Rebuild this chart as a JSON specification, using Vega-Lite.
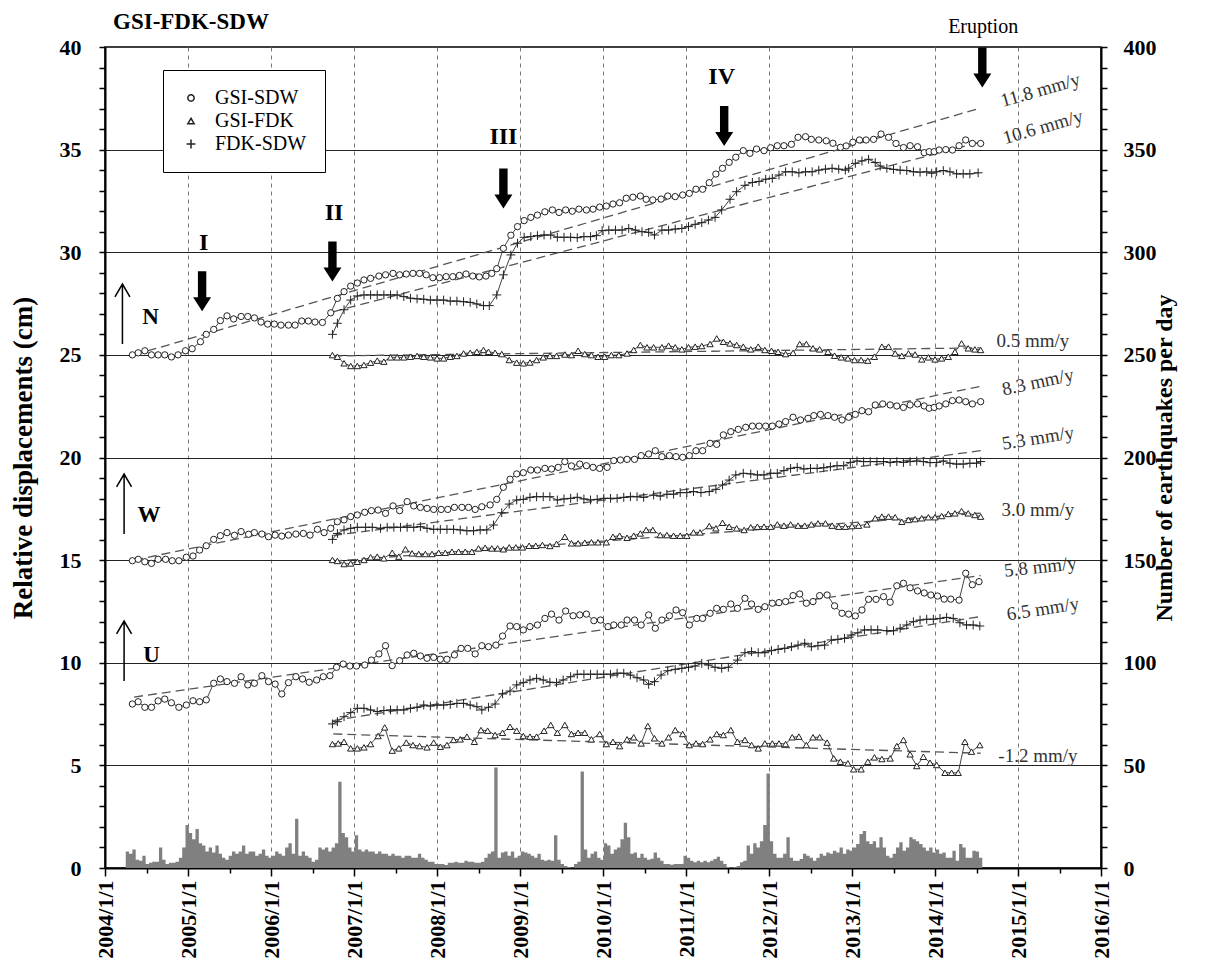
{
"$schema":"https://vega.github.io/schema/vega-lite/v6.json",
"width":996,"height":821,
"autosize":{"type":"none"},
"padding":{"left":105,"top":47,"right":113,"bottom":106},
"background":"white",
"title":{"text":"GSI-FDK-SDW","anchor":"start","frame":"group","font":"Liberation Serif","fontSize":23,"fontWeight":"bold","color":"black","dx":8,"dy":33,"offset":16},
"config":{
 "view":{"stroke":"black","strokeWidth":1.5},
 "axis":{"labelFont":"Liberation Serif","titleFont":"Liberation Serif","labelFontWeight":"bold","titleFontWeight":"bold","labelColor":"black","titleColor":"black","tickColor":"black","domainColor":"black","domainWidth":2,"tickWidth":1.5,"labelFontSize":22,"titleFontSize":24,"labelOverlap":false,"labelBound":false,"labelFlush":false}
},
"datasets":{
"quakes":[
{"x":2004.25,"n":8},{"x":2004.29,"n":7},{"x":2004.33,"n":9},{"x":2004.37,"n":4},{"x":2004.41,"n":3.5},{"x":2004.45,"n":6},{"x":2004.49,"n":2},{"x":2004.53,"n":2.5},{"x":2004.57,"n":3},{"x":2004.61,"n":3},
{"x":2004.65,"n":10},{"x":2004.69,"n":4},{"x":2004.73,"n":2},{"x":2004.77,"n":2.5},{"x":2004.81,"n":2.5},{"x":2004.85,"n":3},{"x":2004.89,"n":5},{"x":2004.93,"n":10},{"x":2004.97,"n":21},{"x":2005.01,"n":17},
{"x":2005.05,"n":14},{"x":2005.09,"n":19},{"x":2005.13,"n":12},{"x":2005.17,"n":11},{"x":2005.21,"n":8},{"x":2005.25,"n":10},{"x":2005.29,"n":7.5},{"x":2005.33,"n":11},{"x":2005.37,"n":7},{"x":2005.41,"n":5},
{"x":2005.45,"n":4},{"x":2005.49,"n":6},{"x":2005.53,"n":8},{"x":2005.57,"n":7},{"x":2005.61,"n":8},{"x":2005.65,"n":11},{"x":2005.69,"n":7},{"x":2005.73,"n":8},{"x":2005.77,"n":8},{"x":2005.81,"n":6},
{"x":2005.85,"n":7},{"x":2005.89,"n":9},{"x":2005.93,"n":6},{"x":2005.97,"n":5},{"x":2006.01,"n":6},{"x":2006.05,"n":8},{"x":2006.09,"n":7},{"x":2006.13,"n":6},{"x":2006.17,"n":10},{"x":2006.21,"n":12},
{"x":2006.25,"n":7},{"x":2006.29,"n":24},{"x":2006.33,"n":6},{"x":2006.37,"n":8},{"x":2006.41,"n":6},{"x":2006.45,"n":5},{"x":2006.49,"n":3},{"x":2006.53,"n":4},{"x":2006.57,"n":10},{"x":2006.61,"n":9},
{"x":2006.65,"n":10},{"x":2006.69,"n":8},{"x":2006.73,"n":10},{"x":2006.77,"n":12},{"x":2006.81,"n":42},{"x":2006.85,"n":17},{"x":2006.89,"n":15},{"x":2006.93,"n":10},{"x":2006.97,"n":8},{"x":2007.01,"n":16},
{"x":2007.05,"n":9},{"x":2007.09,"n":8},{"x":2007.13,"n":9},{"x":2007.17,"n":8},{"x":2007.21,"n":8},{"x":2007.25,"n":7},{"x":2007.29,"n":8},{"x":2007.33,"n":7},{"x":2007.37,"n":7},{"x":2007.41,"n":6},
{"x":2007.45,"n":7},{"x":2007.49,"n":6},{"x":2007.53,"n":6},{"x":2007.57,"n":5},{"x":2007.61,"n":6},{"x":2007.65,"n":6},{"x":2007.69,"n":5},{"x":2007.73,"n":5},{"x":2007.77,"n":7},{"x":2007.81,"n":5},
{"x":2007.85,"n":4},{"x":2007.89,"n":3},{"x":2007.93,"n":3},{"x":2007.97,"n":2},{"x":2008.01,"n":2},{"x":2008.05,"n":2},{"x":2008.09,"n":1.5},{"x":2008.13,"n":2.5},{"x":2008.17,"n":2.5},{"x":2008.21,"n":3},
{"x":2008.25,"n":2.5},{"x":2008.29,"n":2.5},{"x":2008.33,"n":3.5},{"x":2008.37,"n":3},{"x":2008.41,"n":3},{"x":2008.45,"n":2.5},{"x":2008.49,"n":2.5},{"x":2008.53,"n":3},{"x":2008.57,"n":5},{"x":2008.61,"n":7},
{"x":2008.65,"n":8},{"x":2008.69,"n":49},{"x":2008.73,"n":5},{"x":2008.77,"n":7.6},{"x":2008.81,"n":8},{"x":2008.85,"n":6},{"x":2008.89,"n":8},{"x":2008.93,"n":5},{"x":2008.97,"n":6},{"x":2009.01,"n":8},
{"x":2009.05,"n":7.6},{"x":2009.09,"n":7},{"x":2009.13,"n":6},{"x":2009.17,"n":5},{"x":2009.21,"n":7},{"x":2009.25,"n":4},{"x":2009.29,"n":3.5},{"x":2009.33,"n":4},{"x":2009.37,"n":3.5},{"x":2009.41,"n":16},
{"x":2009.45,"n":4},{"x":2009.49,"n":2},{"x":2009.53,"n":1},{"x":2009.57,"n":0.5},{"x":2009.61,"n":0.3},{"x":2009.65,"n":2},{"x":2009.69,"n":3},{"x":2009.73,"n":47},{"x":2009.77,"n":9},{"x":2009.81,"n":5},
{"x":2009.85,"n":7},{"x":2009.89,"n":8},{"x":2009.93,"n":5},{"x":2009.97,"n":4},{"x":2010.01,"n":12},{"x":2010.05,"n":11},{"x":2010.09,"n":7},{"x":2010.13,"n":9},{"x":2010.17,"n":10},{"x":2010.21,"n":14},
{"x":2010.25,"n":22},{"x":2010.29,"n":15},{"x":2010.33,"n":7},{"x":2010.37,"n":7.6},{"x":2010.41,"n":5},{"x":2010.45,"n":7},{"x":2010.49,"n":5},{"x":2010.53,"n":4},{"x":2010.57,"n":4.5},{"x":2010.61,"n":7.6},
{"x":2010.65,"n":5},{"x":2010.69,"n":3.5},{"x":2010.73,"n":2},{"x":2010.77,"n":2},{"x":2010.81,"n":1.6},{"x":2010.85,"n":2},{"x":2010.89,"n":2},{"x":2010.93,"n":2},{"x":2010.97,"n":6},{"x":2011.01,"n":5},
{"x":2011.05,"n":3.5},{"x":2011.09,"n":2.8},{"x":2011.13,"n":3.5},{"x":2011.17,"n":2.8},{"x":2011.21,"n":3.5},{"x":2011.25,"n":2.8},{"x":2011.29,"n":3.5},{"x":2011.33,"n":4.4},{"x":2011.37,"n":5.5},{"x":2011.41,"n":3.5},
{"x":2011.45,"n":2},{"x":2011.49,"n":0.5},{"x":2011.53,"n":0.3},{"x":2011.57,"n":0.5},{"x":2011.61,"n":1},{"x":2011.65,"n":2.8},{"x":2011.69,"n":3.5},{"x":2011.73,"n":11},{"x":2011.77,"n":7},{"x":2011.81,"n":12},
{"x":2011.85,"n":10},{"x":2011.89,"n":13},{"x":2011.93,"n":21},{"x":2011.97,"n":46},{"x":2012.01,"n":13},{"x":2012.05,"n":7},{"x":2012.09,"n":5},{"x":2012.13,"n":5},{"x":2012.17,"n":7},{"x":2012.21,"n":15},
{"x":2012.25,"n":5},{"x":2012.29,"n":3.5},{"x":2012.33,"n":3.5},{"x":2012.37,"n":4.4},{"x":2012.41,"n":7},{"x":2012.45,"n":6},{"x":2012.49,"n":5},{"x":2012.53,"n":3.5},{"x":2012.57,"n":5},{"x":2012.61,"n":7},
{"x":2012.65,"n":6},{"x":2012.69,"n":7.6},{"x":2012.73,"n":7},{"x":2012.77,"n":8.4},{"x":2012.81,"n":7.6},{"x":2012.85,"n":10},{"x":2012.89,"n":7},{"x":2012.93,"n":9},{"x":2012.97,"n":8.4},{"x":2013.01,"n":10},
{"x":2013.05,"n":11.7},{"x":2013.09,"n":16.6},{"x":2013.13,"n":18},{"x":2013.17,"n":13},{"x":2013.21,"n":11.7},{"x":2013.25,"n":13},{"x":2013.29,"n":10},{"x":2013.33,"n":15},{"x":2013.37,"n":10},{"x":2013.41,"n":6},
{"x":2013.45,"n":5},{"x":2013.49,"n":7},{"x":2013.53,"n":10},{"x":2013.57,"n":12.5},{"x":2013.61,"n":8.4},{"x":2013.65,"n":10},{"x":2013.69,"n":15},{"x":2013.73,"n":14},{"x":2013.77,"n":13},{"x":2013.81,"n":11.7},
{"x":2013.85,"n":10},{"x":2013.89,"n":8.4},{"x":2013.93,"n":10},{"x":2013.97,"n":7.6},{"x":2014.01,"n":9},{"x":2014.05,"n":7},{"x":2014.09,"n":7.6},{"x":2014.13,"n":5},{"x":2014.17,"n":5},{"x":2014.21,"n":8.4},
{"x":2014.25,"n":3.5},{"x":2014.29,"n":11.7},{"x":2014.33,"n":10},{"x":2014.37,"n":5},{"x":2014.41,"n":5},{"x":2014.45,"n":8.4},{"x":2014.49,"n":8},{"x":2014.53,"n":5},{"x":2014.57,"n":0}
],
"trend":[
{"c":"N","s":"GSI-SDW","x":2004.35,"v":25.0},{"c":"N","s":"GSI-SDW","x":2014.55,"v":37.03},
{"c":"N","s":"FDK-SDW","x":2006.75,"v":27.1},{"c":"N","s":"FDK-SDW","x":2014.55,"v":35.37},
{"c":"N","s":"GSI-FDK","x":2006.75,"v":24.95},{"c":"N","s":"GSI-FDK","x":2014.55,"v":25.34},
{"c":"W","s":"GSI-SDW","x":2004.35,"v":15.0},{"c":"W","s":"GSI-SDW","x":2014.55,"v":23.47},
{"c":"W","s":"FDK-SDW","x":2006.75,"v":16.2},{"c":"W","s":"FDK-SDW","x":2014.55,"v":20.33},
{"c":"W","s":"GSI-FDK","x":2006.75,"v":14.95},{"c":"W","s":"GSI-FDK","x":2014.55,"v":17.29},
{"c":"U","s":"GSI-SDW","x":2004.35,"v":8.33},{"c":"U","s":"GSI-SDW","x":2014.55,"v":14.25},
{"c":"U","s":"FDK-SDW","x":2006.75,"v":7.18},{"c":"U","s":"FDK-SDW","x":2014.55,"v":12.25},
{"c":"U","s":"GSI-FDK","x":2006.75,"v":6.53},{"c":"U","s":"GSI-FDK","x":2014.55,"v":5.59}
],
"disp":[
{"c":"N","s":"GSI-SDW","x":2004.33,"v":25.0},{"c":"N","s":"GSI-SDW","x":2004.40,"v":25.1},{"c":"N","s":"GSI-SDW","x":2004.48,"v":25.2},{"c":"N","s":"GSI-SDW","x":2004.56,"v":25.0},{"c":"N","s":"GSI-SDW","x":2004.64,"v":25.0},{"c":"N","s":"GSI-SDW","x":2004.72,"v":25.0},{"c":"N","s":"GSI-SDW","x":2004.80,"v":24.9},{"c":"N","s":"GSI-SDW","x":2004.88,"v":25.0},{"c":"N","s":"GSI-SDW","x":2004.97,"v":25.2},{"c":"N","s":"GSI-SDW","x":2005.05,"v":25.3},
{"c":"N","s":"GSI-SDW","x":2005.15,"v":25.64},{"c":"N","s":"GSI-SDW","x":2005.22,"v":26.0},{"c":"N","s":"GSI-SDW","x":2005.31,"v":26.24},{"c":"N","s":"GSI-SDW","x":2005.39,"v":26.67},{"c":"N","s":"GSI-SDW","x":2005.47,"v":26.9},{"c":"N","s":"GSI-SDW","x":2005.55,"v":26.75},{"c":"N","s":"GSI-SDW","x":2005.64,"v":26.87},{"c":"N","s":"GSI-SDW","x":2005.72,"v":26.87},{"c":"N","s":"GSI-SDW","x":2005.80,"v":26.8},{"c":"N","s":"GSI-SDW","x":2005.88,"v":26.6},
{"c":"N","s":"GSI-SDW","x":2005.96,"v":26.5},{"c":"N","s":"GSI-SDW","x":2006.04,"v":26.5},{"c":"N","s":"GSI-SDW","x":2006.12,"v":26.45},{"c":"N","s":"GSI-SDW","x":2006.21,"v":26.45},{"c":"N","s":"GSI-SDW","x":2006.29,"v":26.45},{"c":"N","s":"GSI-SDW","x":2006.37,"v":26.65},{"c":"N","s":"GSI-SDW","x":2006.45,"v":26.65},{"c":"N","s":"GSI-SDW","x":2006.53,"v":26.6},{"c":"N","s":"GSI-SDW","x":2006.62,"v":26.58},{"c":"N","s":"GSI-SDW","x":2006.72,"v":27.05},
{"c":"N","s":"GSI-SDW","x":2006.80,"v":27.75},{"c":"N","s":"GSI-SDW","x":2006.88,"v":28.08},{"c":"N","s":"GSI-SDW","x":2006.96,"v":28.35},{"c":"N","s":"GSI-SDW","x":2007.04,"v":28.5},{"c":"N","s":"GSI-SDW","x":2007.12,"v":28.65},{"c":"N","s":"GSI-SDW","x":2007.20,"v":28.73},{"c":"N","s":"GSI-SDW","x":2007.30,"v":28.84},{"c":"N","s":"GSI-SDW","x":2007.38,"v":28.9},{"c":"N","s":"GSI-SDW","x":2007.47,"v":28.97},{"c":"N","s":"GSI-SDW","x":2007.55,"v":28.9},
{"c":"N","s":"GSI-SDW","x":2007.63,"v":28.94},{"c":"N","s":"GSI-SDW","x":2007.71,"v":28.97},{"c":"N","s":"GSI-SDW","x":2007.79,"v":28.97},{"c":"N","s":"GSI-SDW","x":2007.87,"v":28.9},{"c":"N","s":"GSI-SDW","x":2007.95,"v":28.76},{"c":"N","s":"GSI-SDW","x":2008.03,"v":28.76},{"c":"N","s":"GSI-SDW","x":2008.11,"v":28.81},{"c":"N","s":"GSI-SDW","x":2008.19,"v":28.81},{"c":"N","s":"GSI-SDW","x":2008.27,"v":28.87},{"c":"N","s":"GSI-SDW","x":2008.35,"v":28.94},
{"c":"N","s":"GSI-SDW","x":2008.43,"v":28.84},{"c":"N","s":"GSI-SDW","x":2008.51,"v":28.8},{"c":"N","s":"GSI-SDW","x":2008.59,"v":28.84},{"c":"N","s":"GSI-SDW","x":2008.66,"v":28.97},{"c":"N","s":"GSI-SDW","x":2008.72,"v":29.2},{"c":"N","s":"GSI-SDW","x":2008.80,"v":30.19},{"c":"N","s":"GSI-SDW","x":2008.89,"v":30.83},{"c":"N","s":"GSI-SDW","x":2008.97,"v":31.25},{"c":"N","s":"GSI-SDW","x":2009.05,"v":31.54},{"c":"N","s":"GSI-SDW","x":2009.13,"v":31.7},
{"c":"N","s":"GSI-SDW","x":2009.21,"v":31.81},{"c":"N","s":"GSI-SDW","x":2009.30,"v":31.97},{"c":"N","s":"GSI-SDW","x":2009.39,"v":32.06},{"c":"N","s":"GSI-SDW","x":2009.47,"v":31.94},{"c":"N","s":"GSI-SDW","x":2009.55,"v":32.06},{"c":"N","s":"GSI-SDW","x":2009.63,"v":32.0},{"c":"N","s":"GSI-SDW","x":2009.71,"v":32.1},{"c":"N","s":"GSI-SDW","x":2009.80,"v":32.06},{"c":"N","s":"GSI-SDW","x":2009.88,"v":32.1},{"c":"N","s":"GSI-SDW","x":2009.96,"v":32.2},
{"c":"N","s":"GSI-SDW","x":2010.04,"v":32.25},{"c":"N","s":"GSI-SDW","x":2010.12,"v":32.35},{"c":"N","s":"GSI-SDW","x":2010.20,"v":32.41},{"c":"N","s":"GSI-SDW","x":2010.28,"v":32.63},{"c":"N","s":"GSI-SDW","x":2010.36,"v":32.68},{"c":"N","s":"GSI-SDW","x":2010.45,"v":32.74},{"c":"N","s":"GSI-SDW","x":2010.52,"v":32.58},{"c":"N","s":"GSI-SDW","x":2010.60,"v":32.55},{"c":"N","s":"GSI-SDW","x":2010.70,"v":32.59},{"c":"N","s":"GSI-SDW","x":2010.78,"v":32.74},
{"c":"N","s":"GSI-SDW","x":2010.87,"v":32.71},{"c":"N","s":"GSI-SDW","x":2010.96,"v":32.79},{"c":"N","s":"GSI-SDW","x":2011.04,"v":32.87},{"c":"N","s":"GSI-SDW","x":2011.12,"v":33.07},{"c":"N","s":"GSI-SDW","x":2011.20,"v":33.07},{"c":"N","s":"GSI-SDW","x":2011.28,"v":33.39},{"c":"N","s":"GSI-SDW","x":2011.36,"v":33.81},{"c":"N","s":"GSI-SDW","x":2011.44,"v":34.09},{"c":"N","s":"GSI-SDW","x":2011.52,"v":34.38},{"c":"N","s":"GSI-SDW","x":2011.60,"v":34.63},
{"c":"N","s":"GSI-SDW","x":2011.69,"v":34.95},{"c":"N","s":"GSI-SDW","x":2011.77,"v":34.82},{"c":"N","s":"GSI-SDW","x":2011.85,"v":35.03},{"c":"N","s":"GSI-SDW","x":2011.94,"v":34.95},{"c":"N","s":"GSI-SDW","x":2012.02,"v":35.09},{"c":"N","s":"GSI-SDW","x":2012.10,"v":35.19},{"c":"N","s":"GSI-SDW","x":2012.18,"v":35.19},{"c":"N","s":"GSI-SDW","x":2012.27,"v":35.26},{"c":"N","s":"GSI-SDW","x":2012.35,"v":35.6},{"c":"N","s":"GSI-SDW","x":2012.44,"v":35.63},
{"c":"N","s":"GSI-SDW","x":2012.51,"v":35.5},{"c":"N","s":"GSI-SDW","x":2012.60,"v":35.47},{"c":"N","s":"GSI-SDW","x":2012.69,"v":35.43},{"c":"N","s":"GSI-SDW","x":2012.77,"v":35.31},{"c":"N","s":"GSI-SDW","x":2012.86,"v":35.11},{"c":"N","s":"GSI-SDW","x":2012.93,"v":35.18},{"c":"N","s":"GSI-SDW","x":2013.01,"v":35.36},{"c":"N","s":"GSI-SDW","x":2013.09,"v":35.47},{"c":"N","s":"GSI-SDW","x":2013.17,"v":35.47},{"c":"N","s":"GSI-SDW","x":2013.26,"v":35.5},
{"c":"N","s":"GSI-SDW","x":2013.35,"v":35.76},{"c":"N","s":"GSI-SDW","x":2013.44,"v":35.6},{"c":"N","s":"GSI-SDW","x":2013.53,"v":35.3},{"c":"N","s":"GSI-SDW","x":2013.62,"v":35.1},{"c":"N","s":"GSI-SDW","x":2013.70,"v":35.19},{"c":"N","s":"GSI-SDW","x":2013.79,"v":35.14},{"c":"N","s":"GSI-SDW","x":2013.87,"v":34.85},{"c":"N","s":"GSI-SDW","x":2013.93,"v":34.9},{"c":"N","s":"GSI-SDW","x":2013.99,"v":34.9},{"c":"N","s":"GSI-SDW","x":2014.05,"v":34.98},
{"c":"N","s":"GSI-SDW","x":2014.13,"v":35.0},{"c":"N","s":"GSI-SDW","x":2014.21,"v":34.98},{"c":"N","s":"GSI-SDW","x":2014.29,"v":35.19},{"c":"N","s":"GSI-SDW","x":2014.37,"v":35.47},{"c":"N","s":"GSI-SDW","x":2014.45,"v":35.3},{"c":"N","s":"GSI-SDW","x":2014.55,"v":35.3},
{"c":"N","s":"FDK-SDW","x":2006.74,"v":26.0},{"c":"N","s":"FDK-SDW","x":2006.80,"v":26.54},{"c":"N","s":"FDK-SDW","x":2006.88,"v":27.2},{"c":"N","s":"FDK-SDW","x":2006.96,"v":27.67},{"c":"N","s":"FDK-SDW","x":2007.04,"v":27.87},{"c":"N","s":"FDK-SDW","x":2007.12,"v":27.92},{"c":"N","s":"FDK-SDW","x":2007.20,"v":27.92},{"c":"N","s":"FDK-SDW","x":2007.28,"v":27.92},{"c":"N","s":"FDK-SDW","x":2007.36,"v":27.92},{"c":"N","s":"FDK-SDW","x":2007.44,"v":27.92},
{"c":"N","s":"FDK-SDW","x":2007.52,"v":27.92},{"c":"N","s":"FDK-SDW","x":2007.60,"v":27.84},{"c":"N","s":"FDK-SDW","x":2007.68,"v":27.76},{"c":"N","s":"FDK-SDW","x":2007.76,"v":27.73},{"c":"N","s":"FDK-SDW","x":2007.84,"v":27.71},{"c":"N","s":"FDK-SDW","x":2007.92,"v":27.67},{"c":"N","s":"FDK-SDW","x":2008.00,"v":27.67},{"c":"N","s":"FDK-SDW","x":2008.08,"v":27.67},{"c":"N","s":"FDK-SDW","x":2008.16,"v":27.62},{"c":"N","s":"FDK-SDW","x":2008.24,"v":27.62},
{"c":"N","s":"FDK-SDW","x":2008.32,"v":27.59},{"c":"N","s":"FDK-SDW","x":2008.40,"v":27.56},{"c":"N","s":"FDK-SDW","x":2008.48,"v":27.48},{"c":"N","s":"FDK-SDW","x":2008.56,"v":27.4},{"c":"N","s":"FDK-SDW","x":2008.63,"v":27.4},{"c":"N","s":"FDK-SDW","x":2008.72,"v":27.92},{"c":"N","s":"FDK-SDW","x":2008.80,"v":28.9},{"c":"N","s":"FDK-SDW","x":2008.89,"v":29.87},{"c":"N","s":"FDK-SDW","x":2008.97,"v":30.44},{"c":"N","s":"FDK-SDW","x":2009.05,"v":30.73},
{"c":"N","s":"FDK-SDW","x":2009.13,"v":30.76},{"c":"N","s":"FDK-SDW","x":2009.21,"v":30.81},{"c":"N","s":"FDK-SDW","x":2009.29,"v":30.84},{"c":"N","s":"FDK-SDW","x":2009.37,"v":30.84},{"c":"N","s":"FDK-SDW","x":2009.45,"v":30.73},{"c":"N","s":"FDK-SDW","x":2009.53,"v":30.73},{"c":"N","s":"FDK-SDW","x":2009.61,"v":30.73},{"c":"N","s":"FDK-SDW","x":2009.69,"v":30.71},{"c":"N","s":"FDK-SDW","x":2009.77,"v":30.76},{"c":"N","s":"FDK-SDW","x":2009.85,"v":30.76},
{"c":"N","s":"FDK-SDW","x":2009.92,"v":30.81},{"c":"N","s":"FDK-SDW","x":2009.99,"v":31.05},{"c":"N","s":"FDK-SDW","x":2010.07,"v":31.08},{"c":"N","s":"FDK-SDW","x":2010.15,"v":31.08},{"c":"N","s":"FDK-SDW","x":2010.23,"v":31.08},{"c":"N","s":"FDK-SDW","x":2010.31,"v":31.16},{"c":"N","s":"FDK-SDW","x":2010.39,"v":31.08},{"c":"N","s":"FDK-SDW","x":2010.47,"v":31.0},{"c":"N","s":"FDK-SDW","x":2010.55,"v":30.97},{"c":"N","s":"FDK-SDW","x":2010.62,"v":30.84},
{"c":"N","s":"FDK-SDW","x":2010.71,"v":31.08},{"c":"N","s":"FDK-SDW","x":2010.79,"v":31.08},{"c":"N","s":"FDK-SDW","x":2010.87,"v":31.13},{"c":"N","s":"FDK-SDW","x":2010.95,"v":31.16},{"c":"N","s":"FDK-SDW","x":2011.03,"v":31.25},{"c":"N","s":"FDK-SDW","x":2011.11,"v":31.36},{"c":"N","s":"FDK-SDW","x":2011.19,"v":31.44},{"c":"N","s":"FDK-SDW","x":2011.27,"v":31.57},{"c":"N","s":"FDK-SDW","x":2011.35,"v":31.7},{"c":"N","s":"FDK-SDW","x":2011.43,"v":32.06},
{"c":"N","s":"FDK-SDW","x":2011.53,"v":32.58},{"c":"N","s":"FDK-SDW","x":2011.61,"v":32.95},{"c":"N","s":"FDK-SDW","x":2011.71,"v":33.26},{"c":"N","s":"FDK-SDW","x":2011.80,"v":33.4},{"c":"N","s":"FDK-SDW","x":2011.88,"v":33.45},{"c":"N","s":"FDK-SDW","x":2011.96,"v":33.56},{"c":"N","s":"FDK-SDW","x":2012.04,"v":33.6},{"c":"N","s":"FDK-SDW","x":2012.12,"v":33.76},{"c":"N","s":"FDK-SDW","x":2012.20,"v":33.92},{"c":"N","s":"FDK-SDW","x":2012.28,"v":33.92},
{"c":"N","s":"FDK-SDW","x":2012.36,"v":33.87},{"c":"N","s":"FDK-SDW","x":2012.44,"v":33.92},{"c":"N","s":"FDK-SDW","x":2012.52,"v":33.92},{"c":"N","s":"FDK-SDW","x":2012.60,"v":34.0},{"c":"N","s":"FDK-SDW","x":2012.68,"v":34.05},{"c":"N","s":"FDK-SDW","x":2012.76,"v":34.09},{"c":"N","s":"FDK-SDW","x":2012.84,"v":34.05},{"c":"N","s":"FDK-SDW","x":2012.92,"v":34.0},{"c":"N","s":"FDK-SDW","x":2012.96,"v":34.09},{"c":"N","s":"FDK-SDW","x":2013.04,"v":34.33},
{"c":"N","s":"FDK-SDW","x":2013.12,"v":34.45},{"c":"N","s":"FDK-SDW","x":2013.20,"v":34.53},{"c":"N","s":"FDK-SDW","x":2013.28,"v":34.37},{"c":"N","s":"FDK-SDW","x":2013.34,"v":34.2},{"c":"N","s":"FDK-SDW","x":2013.42,"v":34.09},{"c":"N","s":"FDK-SDW","x":2013.50,"v":34.04},{"c":"N","s":"FDK-SDW","x":2013.58,"v":34.0},{"c":"N","s":"FDK-SDW","x":2013.66,"v":33.98},{"c":"N","s":"FDK-SDW","x":2013.74,"v":33.92},{"c":"N","s":"FDK-SDW","x":2013.82,"v":33.9},
{"c":"N","s":"FDK-SDW","x":2013.90,"v":33.92},{"c":"N","s":"FDK-SDW","x":2013.96,"v":33.85},{"c":"N","s":"FDK-SDW","x":2014.02,"v":33.92},{"c":"N","s":"FDK-SDW","x":2014.10,"v":33.98},{"c":"N","s":"FDK-SDW","x":2014.18,"v":33.92},{"c":"N","s":"FDK-SDW","x":2014.26,"v":33.82},{"c":"N","s":"FDK-SDW","x":2014.34,"v":33.82},{"c":"N","s":"FDK-SDW","x":2014.42,"v":33.82},{"c":"N","s":"FDK-SDW","x":2014.52,"v":33.87},
{"c":"N","s":"GSI-FDK","x":2006.74,"v":24.99},{"c":"N","s":"GSI-FDK","x":2006.80,"v":24.91},{"c":"N","s":"GSI-FDK","x":2006.88,"v":24.59},{"c":"N","s":"GSI-FDK","x":2006.96,"v":24.46},{"c":"N","s":"GSI-FDK","x":2007.04,"v":24.46},{"c":"N","s":"GSI-FDK","x":2007.12,"v":24.51},{"c":"N","s":"GSI-FDK","x":2007.20,"v":24.62},{"c":"N","s":"GSI-FDK","x":2007.28,"v":24.72},{"c":"N","s":"GSI-FDK","x":2007.36,"v":24.67},{"c":"N","s":"GSI-FDK","x":2007.44,"v":24.88},
{"c":"N","s":"GSI-FDK","x":2007.52,"v":24.88},{"c":"N","s":"GSI-FDK","x":2007.60,"v":24.88},{"c":"N","s":"GSI-FDK","x":2007.68,"v":24.91},{"c":"N","s":"GSI-FDK","x":2007.76,"v":24.95},{"c":"N","s":"GSI-FDK","x":2007.84,"v":24.91},{"c":"N","s":"GSI-FDK","x":2007.92,"v":24.88},{"c":"N","s":"GSI-FDK","x":2008.00,"v":24.83},{"c":"N","s":"GSI-FDK","x":2008.08,"v":24.83},{"c":"N","s":"GSI-FDK","x":2008.16,"v":24.91},{"c":"N","s":"GSI-FDK","x":2008.24,"v":24.95},
{"c":"N","s":"GSI-FDK","x":2008.32,"v":25.07},{"c":"N","s":"GSI-FDK","x":2008.40,"v":25.1},{"c":"N","s":"GSI-FDK","x":2008.48,"v":25.15},{"c":"N","s":"GSI-FDK","x":2008.56,"v":25.24},{"c":"N","s":"GSI-FDK","x":2008.62,"v":25.15},{"c":"N","s":"GSI-FDK","x":2008.70,"v":25.1},{"c":"N","s":"GSI-FDK","x":2008.78,"v":25.04},{"c":"N","s":"GSI-FDK","x":2008.87,"v":24.75},{"c":"N","s":"GSI-FDK","x":2008.96,"v":24.62},{"c":"N","s":"GSI-FDK","x":2009.04,"v":24.59},
{"c":"N","s":"GSI-FDK","x":2009.12,"v":24.63},{"c":"N","s":"GSI-FDK","x":2009.20,"v":24.75},{"c":"N","s":"GSI-FDK","x":2009.28,"v":24.88},{"c":"N","s":"GSI-FDK","x":2009.36,"v":24.95},{"c":"N","s":"GSI-FDK","x":2009.44,"v":24.95},{"c":"N","s":"GSI-FDK","x":2009.54,"v":25.02},{"c":"N","s":"GSI-FDK","x":2009.62,"v":24.99},{"c":"N","s":"GSI-FDK","x":2009.70,"v":25.2},{"c":"N","s":"GSI-FDK","x":2009.78,"v":25.04},{"c":"N","s":"GSI-FDK","x":2009.86,"v":24.99},
{"c":"N","s":"GSI-FDK","x":2009.94,"v":24.91},{"c":"N","s":"GSI-FDK","x":2010.02,"v":24.91},{"c":"N","s":"GSI-FDK","x":2010.10,"v":24.99},{"c":"N","s":"GSI-FDK","x":2010.19,"v":24.99},{"c":"N","s":"GSI-FDK","x":2010.29,"v":25.07},{"c":"N","s":"GSI-FDK","x":2010.37,"v":25.24},{"c":"N","s":"GSI-FDK","x":2010.45,"v":25.48},{"c":"N","s":"GSI-FDK","x":2010.53,"v":25.37},{"c":"N","s":"GSI-FDK","x":2010.61,"v":25.37},{"c":"N","s":"GSI-FDK","x":2010.71,"v":25.37},
{"c":"N","s":"GSI-FDK","x":2010.79,"v":25.45},{"c":"N","s":"GSI-FDK","x":2010.87,"v":25.37},{"c":"N","s":"GSI-FDK","x":2010.95,"v":25.27},{"c":"N","s":"GSI-FDK","x":2011.03,"v":25.37},{"c":"N","s":"GSI-FDK","x":2011.11,"v":25.4},{"c":"N","s":"GSI-FDK","x":2011.19,"v":25.43},{"c":"N","s":"GSI-FDK","x":2011.29,"v":25.53},{"c":"N","s":"GSI-FDK","x":2011.37,"v":25.8},{"c":"N","s":"GSI-FDK","x":2011.45,"v":25.64},{"c":"N","s":"GSI-FDK","x":2011.53,"v":25.56},
{"c":"N","s":"GSI-FDK","x":2011.61,"v":25.48},{"c":"N","s":"GSI-FDK","x":2011.69,"v":25.4},{"c":"N","s":"GSI-FDK","x":2011.78,"v":25.27},{"c":"N","s":"GSI-FDK","x":2011.87,"v":25.4},{"c":"N","s":"GSI-FDK","x":2011.95,"v":25.24},{"c":"N","s":"GSI-FDK","x":2012.03,"v":25.2},{"c":"N","s":"GSI-FDK","x":2012.11,"v":25.15},{"c":"N","s":"GSI-FDK","x":2012.20,"v":25.04},{"c":"N","s":"GSI-FDK","x":2012.29,"v":25.1},{"c":"N","s":"GSI-FDK","x":2012.37,"v":25.53},
{"c":"N","s":"GSI-FDK","x":2012.45,"v":25.53},{"c":"N","s":"GSI-FDK","x":2012.53,"v":25.32},{"c":"N","s":"GSI-FDK","x":2012.61,"v":25.27},{"c":"N","s":"GSI-FDK","x":2012.71,"v":25.15},{"c":"N","s":"GSI-FDK","x":2012.79,"v":24.96},{"c":"N","s":"GSI-FDK","x":2012.87,"v":24.88},{"c":"N","s":"GSI-FDK","x":2012.95,"v":24.83},{"c":"N","s":"GSI-FDK","x":2013.03,"v":24.75},{"c":"N","s":"GSI-FDK","x":2013.11,"v":24.75},{"c":"N","s":"GSI-FDK","x":2013.19,"v":24.72},
{"c":"N","s":"GSI-FDK","x":2013.27,"v":24.91},{"c":"N","s":"GSI-FDK","x":2013.36,"v":25.4},{"c":"N","s":"GSI-FDK","x":2013.44,"v":25.4},{"c":"N","s":"GSI-FDK","x":2013.52,"v":25.07},{"c":"N","s":"GSI-FDK","x":2013.60,"v":24.95},{"c":"N","s":"GSI-FDK","x":2013.68,"v":25.07},{"c":"N","s":"GSI-FDK","x":2013.76,"v":25.02},{"c":"N","s":"GSI-FDK","x":2013.84,"v":24.78},{"c":"N","s":"GSI-FDK","x":2013.92,"v":24.88},{"c":"N","s":"GSI-FDK","x":2014.00,"v":24.78},
{"c":"N","s":"GSI-FDK","x":2014.08,"v":24.83},{"c":"N","s":"GSI-FDK","x":2014.16,"v":24.91},{"c":"N","s":"GSI-FDK","x":2014.24,"v":25.15},{"c":"N","s":"GSI-FDK","x":2014.32,"v":25.56},{"c":"N","s":"GSI-FDK","x":2014.40,"v":25.32},{"c":"N","s":"GSI-FDK","x":2014.48,"v":25.27},{"c":"N","s":"GSI-FDK","x":2014.55,"v":25.24},
{"c":"W","s":"GSI-SDW","x":2004.33,"v":14.97},{"c":"W","s":"GSI-SDW","x":2004.40,"v":15.04},{"c":"W","s":"GSI-SDW","x":2004.48,"v":14.92},{"c":"W","s":"GSI-SDW","x":2004.56,"v":14.84},{"c":"W","s":"GSI-SDW","x":2004.64,"v":15.04},{"c":"W","s":"GSI-SDW","x":2004.73,"v":15.04},{"c":"W","s":"GSI-SDW","x":2004.81,"v":14.97},{"c":"W","s":"GSI-SDW","x":2004.89,"v":14.97},{"c":"W","s":"GSI-SDW","x":2004.98,"v":15.14},{"c":"W","s":"GSI-SDW","x":2005.06,"v":15.2},
{"c":"W","s":"GSI-SDW","x":2005.14,"v":15.49},{"c":"W","s":"GSI-SDW","x":2005.22,"v":15.7},{"c":"W","s":"GSI-SDW","x":2005.31,"v":16.01},{"c":"W","s":"GSI-SDW","x":2005.39,"v":16.19},{"c":"W","s":"GSI-SDW","x":2005.47,"v":16.34},{"c":"W","s":"GSI-SDW","x":2005.56,"v":16.21},{"c":"W","s":"GSI-SDW","x":2005.64,"v":16.39},{"c":"W","s":"GSI-SDW","x":2005.73,"v":16.26},{"c":"W","s":"GSI-SDW","x":2005.80,"v":16.34},{"c":"W","s":"GSI-SDW","x":2005.89,"v":16.27},
{"c":"W","s":"GSI-SDW","x":2005.97,"v":16.14},{"c":"W","s":"GSI-SDW","x":2006.05,"v":16.22},{"c":"W","s":"GSI-SDW","x":2006.13,"v":16.17},{"c":"W","s":"GSI-SDW","x":2006.21,"v":16.22},{"c":"W","s":"GSI-SDW","x":2006.30,"v":16.27},{"c":"W","s":"GSI-SDW","x":2006.39,"v":16.3},{"c":"W","s":"GSI-SDW","x":2006.47,"v":16.22},{"c":"W","s":"GSI-SDW","x":2006.56,"v":16.5},{"c":"W","s":"GSI-SDW","x":2006.64,"v":16.34},{"c":"W","s":"GSI-SDW","x":2006.72,"v":16.55},
{"c":"W","s":"GSI-SDW","x":2006.80,"v":16.87},{"c":"W","s":"GSI-SDW","x":2006.88,"v":16.96},{"c":"W","s":"GSI-SDW","x":2006.96,"v":17.12},{"c":"W","s":"GSI-SDW","x":2007.04,"v":17.2},{"c":"W","s":"GSI-SDW","x":2007.13,"v":17.33},{"c":"W","s":"GSI-SDW","x":2007.21,"v":17.41},{"c":"W","s":"GSI-SDW","x":2007.29,"v":17.44},{"c":"W","s":"GSI-SDW","x":2007.38,"v":17.28},{"c":"W","s":"GSI-SDW","x":2007.47,"v":17.64},{"c":"W","s":"GSI-SDW","x":2007.55,"v":17.41},
{"c":"W","s":"GSI-SDW","x":2007.64,"v":17.85},{"c":"W","s":"GSI-SDW","x":2007.72,"v":17.64},{"c":"W","s":"GSI-SDW","x":2007.80,"v":17.57},{"c":"W","s":"GSI-SDW","x":2007.88,"v":17.52},{"c":"W","s":"GSI-SDW","x":2007.96,"v":17.47},{"c":"W","s":"GSI-SDW","x":2008.05,"v":17.47},{"c":"W","s":"GSI-SDW","x":2008.13,"v":17.47},{"c":"W","s":"GSI-SDW","x":2008.21,"v":17.57},{"c":"W","s":"GSI-SDW","x":2008.30,"v":17.57},{"c":"W","s":"GSI-SDW","x":2008.38,"v":17.57},
{"c":"W","s":"GSI-SDW","x":2008.46,"v":17.47},{"c":"W","s":"GSI-SDW","x":2008.54,"v":17.6},{"c":"W","s":"GSI-SDW","x":2008.64,"v":17.69},{"c":"W","s":"GSI-SDW","x":2008.72,"v":17.96},{"c":"W","s":"GSI-SDW","x":2008.80,"v":18.55},{"c":"W","s":"GSI-SDW","x":2008.88,"v":18.94},{"c":"W","s":"GSI-SDW","x":2008.96,"v":19.2},{"c":"W","s":"GSI-SDW","x":2009.04,"v":19.26},{"c":"W","s":"GSI-SDW","x":2009.13,"v":19.39},{"c":"W","s":"GSI-SDW","x":2009.21,"v":19.39},
{"c":"W","s":"GSI-SDW","x":2009.30,"v":19.47},{"c":"W","s":"GSI-SDW","x":2009.38,"v":19.44},{"c":"W","s":"GSI-SDW","x":2009.46,"v":19.52},{"c":"W","s":"GSI-SDW","x":2009.54,"v":19.8},{"c":"W","s":"GSI-SDW","x":2009.62,"v":19.59},{"c":"W","s":"GSI-SDW","x":2009.72,"v":19.68},{"c":"W","s":"GSI-SDW","x":2009.80,"v":19.6},{"c":"W","s":"GSI-SDW","x":2009.88,"v":19.52},{"c":"W","s":"GSI-SDW","x":2009.96,"v":19.47},{"c":"W","s":"GSI-SDW","x":2010.05,"v":19.52},
{"c":"W","s":"GSI-SDW","x":2010.13,"v":19.85},{"c":"W","s":"GSI-SDW","x":2010.21,"v":19.88},{"c":"W","s":"GSI-SDW","x":2010.29,"v":19.91},{"c":"W","s":"GSI-SDW","x":2010.38,"v":19.91},{"c":"W","s":"GSI-SDW","x":2010.46,"v":20.09},{"c":"W","s":"GSI-SDW","x":2010.55,"v":20.17},{"c":"W","s":"GSI-SDW","x":2010.63,"v":20.33},{"c":"W","s":"GSI-SDW","x":2010.71,"v":20.04},{"c":"W","s":"GSI-SDW","x":2010.80,"v":20.09},{"c":"W","s":"GSI-SDW","x":2010.88,"v":20.04},
{"c":"W","s":"GSI-SDW","x":2010.96,"v":20.01},{"c":"W","s":"GSI-SDW","x":2011.04,"v":20.09},{"c":"W","s":"GSI-SDW","x":2011.12,"v":20.33},{"c":"W","s":"GSI-SDW","x":2011.20,"v":20.33},{"c":"W","s":"GSI-SDW","x":2011.29,"v":20.69},{"c":"W","s":"GSI-SDW","x":2011.37,"v":20.64},{"c":"W","s":"GSI-SDW","x":2011.45,"v":21.1},{"c":"W","s":"GSI-SDW","x":2011.54,"v":21.26},{"c":"W","s":"GSI-SDW","x":2011.63,"v":21.37},{"c":"W","s":"GSI-SDW","x":2011.72,"v":21.47},
{"c":"W","s":"GSI-SDW","x":2011.80,"v":21.53},{"c":"W","s":"GSI-SDW","x":2011.88,"v":21.53},{"c":"W","s":"GSI-SDW","x":2011.96,"v":21.53},{"c":"W","s":"GSI-SDW","x":2012.04,"v":21.53},{"c":"W","s":"GSI-SDW","x":2012.12,"v":21.63},{"c":"W","s":"GSI-SDW","x":2012.20,"v":21.75},{"c":"W","s":"GSI-SDW","x":2012.29,"v":21.96},{"c":"W","s":"GSI-SDW","x":2012.38,"v":21.83},{"c":"W","s":"GSI-SDW","x":2012.47,"v":21.91},{"c":"W","s":"GSI-SDW","x":2012.54,"v":22.04},
{"c":"W","s":"GSI-SDW","x":2012.62,"v":22.1},{"c":"W","s":"GSI-SDW","x":2012.71,"v":22.04},{"c":"W","s":"GSI-SDW","x":2012.79,"v":21.96},{"c":"W","s":"GSI-SDW","x":2012.88,"v":21.83},{"c":"W","s":"GSI-SDW","x":2012.96,"v":21.96},{"c":"W","s":"GSI-SDW","x":2013.04,"v":22.1},{"c":"W","s":"GSI-SDW","x":2013.12,"v":22.28},{"c":"W","s":"GSI-SDW","x":2013.20,"v":22.23},{"c":"W","s":"GSI-SDW","x":2013.28,"v":22.56},{"c":"W","s":"GSI-SDW","x":2013.37,"v":22.61},
{"c":"W","s":"GSI-SDW","x":2013.46,"v":22.56},{"c":"W","s":"GSI-SDW","x":2013.54,"v":22.51},{"c":"W","s":"GSI-SDW","x":2013.62,"v":22.44},{"c":"W","s":"GSI-SDW","x":2013.70,"v":22.56},{"c":"W","s":"GSI-SDW","x":2013.79,"v":22.61},{"c":"W","s":"GSI-SDW","x":2013.87,"v":22.51},{"c":"W","s":"GSI-SDW","x":2013.93,"v":22.4},{"c":"W","s":"GSI-SDW","x":2013.99,"v":22.44},{"c":"W","s":"GSI-SDW","x":2014.05,"v":22.51},{"c":"W","s":"GSI-SDW","x":2014.13,"v":22.61},
{"c":"W","s":"GSI-SDW","x":2014.21,"v":22.77},{"c":"W","s":"GSI-SDW","x":2014.29,"v":22.8},{"c":"W","s":"GSI-SDW","x":2014.37,"v":22.72},{"c":"W","s":"GSI-SDW","x":2014.45,"v":22.61},{"c":"W","s":"GSI-SDW","x":2014.55,"v":22.72},
{"c":"W","s":"FDK-SDW","x":2006.74,"v":16.01},{"c":"W","s":"FDK-SDW","x":2006.80,"v":16.3},{"c":"W","s":"FDK-SDW","x":2006.88,"v":16.47},{"c":"W","s":"FDK-SDW","x":2006.96,"v":16.55},{"c":"W","s":"FDK-SDW","x":2007.04,"v":16.6},{"c":"W","s":"FDK-SDW","x":2007.14,"v":16.6},{"c":"W","s":"FDK-SDW","x":2007.22,"v":16.6},{"c":"W","s":"FDK-SDW","x":2007.32,"v":16.55},{"c":"W","s":"FDK-SDW","x":2007.40,"v":16.6},{"c":"W","s":"FDK-SDW","x":2007.48,"v":16.6},
{"c":"W","s":"FDK-SDW","x":2007.56,"v":16.6},{"c":"W","s":"FDK-SDW","x":2007.64,"v":16.6},{"c":"W","s":"FDK-SDW","x":2007.72,"v":16.6},{"c":"W","s":"FDK-SDW","x":2007.80,"v":16.63},{"c":"W","s":"FDK-SDW","x":2007.88,"v":16.55},{"c":"W","s":"FDK-SDW","x":2007.96,"v":16.5},{"c":"W","s":"FDK-SDW","x":2008.04,"v":16.5},{"c":"W","s":"FDK-SDW","x":2008.12,"v":16.5},{"c":"W","s":"FDK-SDW","x":2008.20,"v":16.5},{"c":"W","s":"FDK-SDW","x":2008.28,"v":16.47},
{"c":"W","s":"FDK-SDW","x":2008.36,"v":16.43},{"c":"W","s":"FDK-SDW","x":2008.44,"v":16.43},{"c":"W","s":"FDK-SDW","x":2008.52,"v":16.47},{"c":"W","s":"FDK-SDW","x":2008.60,"v":16.47},{"c":"W","s":"FDK-SDW","x":2008.68,"v":16.71},{"c":"W","s":"FDK-SDW","x":2008.78,"v":17.31},{"c":"W","s":"FDK-SDW","x":2008.87,"v":17.73},{"c":"W","s":"FDK-SDW","x":2008.96,"v":17.93},{"c":"W","s":"FDK-SDW","x":2009.04,"v":17.96},{"c":"W","s":"FDK-SDW","x":2009.12,"v":18.06},
{"c":"W","s":"FDK-SDW","x":2009.20,"v":18.09},{"c":"W","s":"FDK-SDW","x":2009.28,"v":18.09},{"c":"W","s":"FDK-SDW","x":2009.36,"v":18.09},{"c":"W","s":"FDK-SDW","x":2009.45,"v":17.93},{"c":"W","s":"FDK-SDW","x":2009.53,"v":17.98},{"c":"W","s":"FDK-SDW","x":2009.61,"v":18.01},{"c":"W","s":"FDK-SDW","x":2009.69,"v":18.06},{"c":"W","s":"FDK-SDW","x":2009.77,"v":17.98},{"c":"W","s":"FDK-SDW","x":2009.85,"v":17.93},{"c":"W","s":"FDK-SDW","x":2009.93,"v":17.96},
{"c":"W","s":"FDK-SDW","x":2010.01,"v":18.01},{"c":"W","s":"FDK-SDW","x":2010.09,"v":18.01},{"c":"W","s":"FDK-SDW","x":2010.17,"v":18.01},{"c":"W","s":"FDK-SDW","x":2010.25,"v":18.06},{"c":"W","s":"FDK-SDW","x":2010.33,"v":18.09},{"c":"W","s":"FDK-SDW","x":2010.41,"v":18.09},{"c":"W","s":"FDK-SDW","x":2010.49,"v":18.06},{"c":"W","s":"FDK-SDW","x":2010.61,"v":18.17},{"c":"W","s":"FDK-SDW","x":2010.69,"v":18.12},{"c":"W","s":"FDK-SDW","x":2010.77,"v":18.21},
{"c":"W","s":"FDK-SDW","x":2010.85,"v":18.21},{"c":"W","s":"FDK-SDW","x":2010.93,"v":18.29},{"c":"W","s":"FDK-SDW","x":2011.01,"v":18.29},{"c":"W","s":"FDK-SDW","x":2011.09,"v":18.34},{"c":"W","s":"FDK-SDW","x":2011.18,"v":18.29},{"c":"W","s":"FDK-SDW","x":2011.28,"v":18.34},{"c":"W","s":"FDK-SDW","x":2011.36,"v":18.45},{"c":"W","s":"FDK-SDW","x":2011.44,"v":18.66},{"c":"W","s":"FDK-SDW","x":2011.52,"v":18.9},{"c":"W","s":"FDK-SDW","x":2011.60,"v":19.15},
{"c":"W","s":"FDK-SDW","x":2011.69,"v":19.23},{"c":"W","s":"FDK-SDW","x":2011.78,"v":19.2},{"c":"W","s":"FDK-SDW","x":2011.86,"v":19.15},{"c":"W","s":"FDK-SDW","x":2011.94,"v":19.15},{"c":"W","s":"FDK-SDW","x":2012.02,"v":19.23},{"c":"W","s":"FDK-SDW","x":2012.10,"v":19.23},{"c":"W","s":"FDK-SDW","x":2012.18,"v":19.36},{"c":"W","s":"FDK-SDW","x":2012.26,"v":19.47},{"c":"W","s":"FDK-SDW","x":2012.34,"v":19.52},{"c":"W","s":"FDK-SDW","x":2012.42,"v":19.44},
{"c":"W","s":"FDK-SDW","x":2012.50,"v":19.47},{"c":"W","s":"FDK-SDW","x":2012.58,"v":19.47},{"c":"W","s":"FDK-SDW","x":2012.66,"v":19.5},{"c":"W","s":"FDK-SDW","x":2012.74,"v":19.55},{"c":"W","s":"FDK-SDW","x":2012.82,"v":19.6},{"c":"W","s":"FDK-SDW","x":2012.90,"v":19.6},{"c":"W","s":"FDK-SDW","x":2012.98,"v":19.76},{"c":"W","s":"FDK-SDW","x":2013.06,"v":19.83},{"c":"W","s":"FDK-SDW","x":2013.14,"v":19.8},{"c":"W","s":"FDK-SDW","x":2013.22,"v":19.8},
{"c":"W","s":"FDK-SDW","x":2013.30,"v":19.8},{"c":"W","s":"FDK-SDW","x":2013.38,"v":19.8},{"c":"W","s":"FDK-SDW","x":2013.46,"v":19.76},{"c":"W","s":"FDK-SDW","x":2013.54,"v":19.8},{"c":"W","s":"FDK-SDW","x":2013.62,"v":19.76},{"c":"W","s":"FDK-SDW","x":2013.70,"v":19.8},{"c":"W","s":"FDK-SDW","x":2013.78,"v":19.83},{"c":"W","s":"FDK-SDW","x":2013.86,"v":19.8},{"c":"W","s":"FDK-SDW","x":2013.94,"v":19.75},{"c":"W","s":"FDK-SDW","x":2014.02,"v":19.76},
{"c":"W","s":"FDK-SDW","x":2014.10,"v":19.83},{"c":"W","s":"FDK-SDW","x":2014.18,"v":19.72},{"c":"W","s":"FDK-SDW","x":2014.26,"v":19.68},{"c":"W","s":"FDK-SDW","x":2014.34,"v":19.68},{"c":"W","s":"FDK-SDW","x":2014.42,"v":19.72},{"c":"W","s":"FDK-SDW","x":2014.50,"v":19.72},{"c":"W","s":"FDK-SDW","x":2014.55,"v":19.8},
{"c":"W","s":"GSI-FDK","x":2006.74,"v":15.01},{"c":"W","s":"GSI-FDK","x":2006.80,"v":14.96},{"c":"W","s":"GSI-FDK","x":2006.88,"v":14.81},{"c":"W","s":"GSI-FDK","x":2006.96,"v":14.84},{"c":"W","s":"GSI-FDK","x":2007.04,"v":14.92},{"c":"W","s":"GSI-FDK","x":2007.12,"v":15.01},{"c":"W","s":"GSI-FDK","x":2007.20,"v":15.14},{"c":"W","s":"GSI-FDK","x":2007.28,"v":15.17},{"c":"W","s":"GSI-FDK","x":2007.36,"v":15.09},{"c":"W","s":"GSI-FDK","x":2007.46,"v":15.36},
{"c":"W","s":"GSI-FDK","x":2007.54,"v":15.17},{"c":"W","s":"GSI-FDK","x":2007.62,"v":15.53},{"c":"W","s":"GSI-FDK","x":2007.70,"v":15.33},{"c":"W","s":"GSI-FDK","x":2007.78,"v":15.3},{"c":"W","s":"GSI-FDK","x":2007.86,"v":15.3},{"c":"W","s":"GSI-FDK","x":2007.94,"v":15.3},{"c":"W","s":"GSI-FDK","x":2008.02,"v":15.36},{"c":"W","s":"GSI-FDK","x":2008.10,"v":15.36},{"c":"W","s":"GSI-FDK","x":2008.18,"v":15.41},{"c":"W","s":"GSI-FDK","x":2008.26,"v":15.41},
{"c":"W","s":"GSI-FDK","x":2008.34,"v":15.41},{"c":"W","s":"GSI-FDK","x":2008.42,"v":15.41},{"c":"W","s":"GSI-FDK","x":2008.50,"v":15.57},{"c":"W","s":"GSI-FDK","x":2008.58,"v":15.6},{"c":"W","s":"GSI-FDK","x":2008.66,"v":15.57},{"c":"W","s":"GSI-FDK","x":2008.73,"v":15.57},{"c":"W","s":"GSI-FDK","x":2008.80,"v":15.53},{"c":"W","s":"GSI-FDK","x":2008.87,"v":15.62},{"c":"W","s":"GSI-FDK","x":2008.95,"v":15.62},{"c":"W","s":"GSI-FDK","x":2009.03,"v":15.62},
{"c":"W","s":"GSI-FDK","x":2009.11,"v":15.7},{"c":"W","s":"GSI-FDK","x":2009.19,"v":15.7},{"c":"W","s":"GSI-FDK","x":2009.27,"v":15.74},{"c":"W","s":"GSI-FDK","x":2009.36,"v":15.69},{"c":"W","s":"GSI-FDK","x":2009.44,"v":15.79},{"c":"W","s":"GSI-FDK","x":2009.54,"v":16.14},{"c":"W","s":"GSI-FDK","x":2009.62,"v":15.82},{"c":"W","s":"GSI-FDK","x":2009.70,"v":15.82},{"c":"W","s":"GSI-FDK","x":2009.78,"v":15.85},{"c":"W","s":"GSI-FDK","x":2009.86,"v":15.87},
{"c":"W","s":"GSI-FDK","x":2009.94,"v":15.87},{"c":"W","s":"GSI-FDK","x":2010.04,"v":15.87},{"c":"W","s":"GSI-FDK","x":2010.12,"v":16.14},{"c":"W","s":"GSI-FDK","x":2010.20,"v":16.19},{"c":"W","s":"GSI-FDK","x":2010.29,"v":16.09},{"c":"W","s":"GSI-FDK","x":2010.37,"v":16.19},{"c":"W","s":"GSI-FDK","x":2010.45,"v":16.3},{"c":"W","s":"GSI-FDK","x":2010.52,"v":16.47},{"c":"W","s":"GSI-FDK","x":2010.60,"v":16.47},{"c":"W","s":"GSI-FDK","x":2010.69,"v":16.22},
{"c":"W","s":"GSI-FDK","x":2010.77,"v":16.22},{"c":"W","s":"GSI-FDK","x":2010.85,"v":16.19},{"c":"W","s":"GSI-FDK","x":2010.93,"v":16.19},{"c":"W","s":"GSI-FDK","x":2011.01,"v":16.19},{"c":"W","s":"GSI-FDK","x":2011.09,"v":16.35},{"c":"W","s":"GSI-FDK","x":2011.17,"v":16.35},{"c":"W","s":"GSI-FDK","x":2011.28,"v":16.66},{"c":"W","s":"GSI-FDK","x":2011.36,"v":16.55},{"c":"W","s":"GSI-FDK","x":2011.44,"v":16.82},{"c":"W","s":"GSI-FDK","x":2011.52,"v":16.63},
{"c":"W","s":"GSI-FDK","x":2011.61,"v":16.55},{"c":"W","s":"GSI-FDK","x":2011.70,"v":16.47},{"c":"W","s":"GSI-FDK","x":2011.78,"v":16.6},{"c":"W","s":"GSI-FDK","x":2011.86,"v":16.63},{"c":"W","s":"GSI-FDK","x":2011.94,"v":16.63},{"c":"W","s":"GSI-FDK","x":2012.02,"v":16.63},{"c":"W","s":"GSI-FDK","x":2012.10,"v":16.74},{"c":"W","s":"GSI-FDK","x":2012.18,"v":16.68},{"c":"W","s":"GSI-FDK","x":2012.26,"v":16.74},{"c":"W","s":"GSI-FDK","x":2012.35,"v":16.68},
{"c":"W","s":"GSI-FDK","x":2012.43,"v":16.68},{"c":"W","s":"GSI-FDK","x":2012.51,"v":16.74},{"c":"W","s":"GSI-FDK","x":2012.59,"v":16.79},{"c":"W","s":"GSI-FDK","x":2012.68,"v":16.79},{"c":"W","s":"GSI-FDK","x":2012.76,"v":16.68},{"c":"W","s":"GSI-FDK","x":2012.84,"v":16.63},{"c":"W","s":"GSI-FDK","x":2012.92,"v":16.63},{"c":"W","s":"GSI-FDK","x":2013.00,"v":16.66},{"c":"W","s":"GSI-FDK","x":2013.08,"v":16.68},{"c":"W","s":"GSI-FDK","x":2013.18,"v":16.74},
{"c":"W","s":"GSI-FDK","x":2013.28,"v":17.04},{"c":"W","s":"GSI-FDK","x":2013.36,"v":17.12},{"c":"W","s":"GSI-FDK","x":2013.44,"v":17.12},{"c":"W","s":"GSI-FDK","x":2013.52,"v":17.09},{"c":"W","s":"GSI-FDK","x":2013.60,"v":16.87},{"c":"W","s":"GSI-FDK","x":2013.68,"v":16.96},{"c":"W","s":"GSI-FDK","x":2013.76,"v":17.0},{"c":"W","s":"GSI-FDK","x":2013.84,"v":17.04},{"c":"W","s":"GSI-FDK","x":2013.92,"v":17.09},{"c":"W","s":"GSI-FDK","x":2014.00,"v":17.09},
{"c":"W","s":"GSI-FDK","x":2014.08,"v":17.15},{"c":"W","s":"GSI-FDK","x":2014.16,"v":17.25},{"c":"W","s":"GSI-FDK","x":2014.24,"v":17.28},{"c":"W","s":"GSI-FDK","x":2014.32,"v":17.39},{"c":"W","s":"GSI-FDK","x":2014.40,"v":17.28},{"c":"W","s":"GSI-FDK","x":2014.48,"v":17.2},{"c":"W","s":"GSI-FDK","x":2014.55,"v":17.12},
{"c":"U","s":"GSI-SDW","x":2004.33,"v":7.99},{"c":"U","s":"GSI-SDW","x":2004.40,"v":8.1},{"c":"U","s":"GSI-SDW","x":2004.48,"v":7.83},{"c":"U","s":"GSI-SDW","x":2004.56,"v":7.83},{"c":"U","s":"GSI-SDW","x":2004.64,"v":8.14},{"c":"U","s":"GSI-SDW","x":2004.72,"v":8.23},{"c":"U","s":"GSI-SDW","x":2004.80,"v":8.05},{"c":"U","s":"GSI-SDW","x":2004.89,"v":7.83},{"c":"U","s":"GSI-SDW","x":2004.98,"v":7.94},{"c":"U","s":"GSI-SDW","x":2005.06,"v":8.15},
{"c":"U","s":"GSI-SDW","x":2005.14,"v":8.1},{"c":"U","s":"GSI-SDW","x":2005.22,"v":8.19},{"c":"U","s":"GSI-SDW","x":2005.31,"v":9.0},{"c":"U","s":"GSI-SDW","x":2005.39,"v":9.21},{"c":"U","s":"GSI-SDW","x":2005.47,"v":9.08},{"c":"U","s":"GSI-SDW","x":2005.56,"v":9.0},{"c":"U","s":"GSI-SDW","x":2005.64,"v":9.32},{"c":"U","s":"GSI-SDW","x":2005.72,"v":8.92},{"c":"U","s":"GSI-SDW","x":2005.80,"v":9.0},{"c":"U","s":"GSI-SDW","x":2005.89,"v":9.37},
{"c":"U","s":"GSI-SDW","x":2005.97,"v":9.08},{"c":"U","s":"GSI-SDW","x":2006.05,"v":8.96},{"c":"U","s":"GSI-SDW","x":2006.13,"v":8.48},{"c":"U","s":"GSI-SDW","x":2006.21,"v":9.03},{"c":"U","s":"GSI-SDW","x":2006.30,"v":9.32},{"c":"U","s":"GSI-SDW","x":2006.38,"v":9.21},{"c":"U","s":"GSI-SDW","x":2006.46,"v":9.05},{"c":"U","s":"GSI-SDW","x":2006.55,"v":9.16},{"c":"U","s":"GSI-SDW","x":2006.63,"v":9.32},{"c":"U","s":"GSI-SDW","x":2006.71,"v":9.37},
{"c":"U","s":"GSI-SDW","x":2006.79,"v":9.78},{"c":"U","s":"GSI-SDW","x":2006.87,"v":9.94},{"c":"U","s":"GSI-SDW","x":2006.95,"v":9.84},{"c":"U","s":"GSI-SDW","x":2007.03,"v":9.84},{"c":"U","s":"GSI-SDW","x":2007.13,"v":9.89},{"c":"U","s":"GSI-SDW","x":2007.21,"v":10.13},{"c":"U","s":"GSI-SDW","x":2007.30,"v":10.43},{"c":"U","s":"GSI-SDW","x":2007.38,"v":10.83},{"c":"U","s":"GSI-SDW","x":2007.46,"v":9.86},{"c":"U","s":"GSI-SDW","x":2007.55,"v":10.1},
{"c":"U","s":"GSI-SDW","x":2007.64,"v":10.38},{"c":"U","s":"GSI-SDW","x":2007.72,"v":10.46},{"c":"U","s":"GSI-SDW","x":2007.80,"v":10.33},{"c":"U","s":"GSI-SDW","x":2007.88,"v":10.22},{"c":"U","s":"GSI-SDW","x":2007.96,"v":10.26},{"c":"U","s":"GSI-SDW","x":2008.04,"v":10.17},{"c":"U","s":"GSI-SDW","x":2008.12,"v":10.17},{"c":"U","s":"GSI-SDW","x":2008.21,"v":10.38},{"c":"U","s":"GSI-SDW","x":2008.29,"v":10.7},{"c":"U","s":"GSI-SDW","x":2008.37,"v":10.7},
{"c":"U","s":"GSI-SDW","x":2008.46,"v":10.43},{"c":"U","s":"GSI-SDW","x":2008.54,"v":10.83},{"c":"U","s":"GSI-SDW","x":2008.62,"v":10.78},{"c":"U","s":"GSI-SDW","x":2008.71,"v":10.86},{"c":"U","s":"GSI-SDW","x":2008.79,"v":11.3},{"c":"U","s":"GSI-SDW","x":2008.88,"v":11.79},{"c":"U","s":"GSI-SDW","x":2008.96,"v":11.76},{"c":"U","s":"GSI-SDW","x":2009.04,"v":11.6},{"c":"U","s":"GSI-SDW","x":2009.12,"v":11.76},{"c":"U","s":"GSI-SDW","x":2009.21,"v":11.84},
{"c":"U","s":"GSI-SDW","x":2009.30,"v":12.16},{"c":"U","s":"GSI-SDW","x":2009.38,"v":12.37},{"c":"U","s":"GSI-SDW","x":2009.47,"v":12.08},{"c":"U","s":"GSI-SDW","x":2009.55,"v":12.52},{"c":"U","s":"GSI-SDW","x":2009.64,"v":12.29},{"c":"U","s":"GSI-SDW","x":2009.72,"v":12.33},{"c":"U","s":"GSI-SDW","x":2009.80,"v":12.37},{"c":"U","s":"GSI-SDW","x":2009.89,"v":12.05},{"c":"U","s":"GSI-SDW","x":2009.97,"v":12.08},{"c":"U","s":"GSI-SDW","x":2010.06,"v":11.76},
{"c":"U","s":"GSI-SDW","x":2010.13,"v":11.84},{"c":"U","s":"GSI-SDW","x":2010.22,"v":11.84},{"c":"U","s":"GSI-SDW","x":2010.29,"v":12.08},{"c":"U","s":"GSI-SDW","x":2010.38,"v":12.08},{"c":"U","s":"GSI-SDW","x":2010.46,"v":11.84},{"c":"U","s":"GSI-SDW","x":2010.55,"v":12.33},{"c":"U","s":"GSI-SDW","x":2010.63,"v":11.68},{"c":"U","s":"GSI-SDW","x":2010.71,"v":12.08},{"c":"U","s":"GSI-SDW","x":2010.80,"v":12.29},{"c":"U","s":"GSI-SDW","x":2010.88,"v":12.57},
{"c":"U","s":"GSI-SDW","x":2010.96,"v":12.44},{"c":"U","s":"GSI-SDW","x":2011.04,"v":11.84},{"c":"U","s":"GSI-SDW","x":2011.13,"v":12.16},{"c":"U","s":"GSI-SDW","x":2011.20,"v":12.16},{"c":"U","s":"GSI-SDW","x":2011.29,"v":12.41},{"c":"U","s":"GSI-SDW","x":2011.37,"v":12.65},{"c":"U","s":"GSI-SDW","x":2011.45,"v":12.6},{"c":"U","s":"GSI-SDW","x":2011.54,"v":12.86},{"c":"U","s":"GSI-SDW","x":2011.62,"v":12.65},{"c":"U","s":"GSI-SDW","x":2011.71,"v":13.14},
{"c":"U","s":"GSI-SDW","x":2011.79,"v":12.86},{"c":"U","s":"GSI-SDW","x":2011.87,"v":12.6},{"c":"U","s":"GSI-SDW","x":2011.95,"v":12.73},{"c":"U","s":"GSI-SDW","x":2012.04,"v":12.9},{"c":"U","s":"GSI-SDW","x":2012.12,"v":12.93},{"c":"U","s":"GSI-SDW","x":2012.20,"v":12.98},{"c":"U","s":"GSI-SDW","x":2012.29,"v":13.27},{"c":"U","s":"GSI-SDW","x":2012.37,"v":13.35},{"c":"U","s":"GSI-SDW","x":2012.45,"v":12.9},{"c":"U","s":"GSI-SDW","x":2012.53,"v":12.98},
{"c":"U","s":"GSI-SDW","x":2012.61,"v":13.27},{"c":"U","s":"GSI-SDW","x":2012.70,"v":13.3},{"c":"U","s":"GSI-SDW","x":2012.79,"v":12.77},{"c":"U","s":"GSI-SDW","x":2012.88,"v":12.41},{"c":"U","s":"GSI-SDW","x":2012.96,"v":12.37},{"c":"U","s":"GSI-SDW","x":2013.04,"v":12.28},{"c":"U","s":"GSI-SDW","x":2013.12,"v":12.57},{"c":"U","s":"GSI-SDW","x":2013.20,"v":13.09},{"c":"U","s":"GSI-SDW","x":2013.29,"v":13.09},{"c":"U","s":"GSI-SDW","x":2013.38,"v":13.22},
{"c":"U","s":"GSI-SDW","x":2013.46,"v":12.95},{"c":"U","s":"GSI-SDW","x":2013.54,"v":13.75},{"c":"U","s":"GSI-SDW","x":2013.62,"v":13.87},{"c":"U","s":"GSI-SDW","x":2013.70,"v":13.65},{"c":"U","s":"GSI-SDW","x":2013.79,"v":13.5},{"c":"U","s":"GSI-SDW","x":2013.87,"v":13.4},{"c":"U","s":"GSI-SDW","x":2013.95,"v":13.3},{"c":"U","s":"GSI-SDW","x":2014.03,"v":13.25},{"c":"U","s":"GSI-SDW","x":2014.11,"v":13.1},{"c":"U","s":"GSI-SDW","x":2014.19,"v":13.1},
{"c":"U","s":"GSI-SDW","x":2014.29,"v":13.05},{"c":"U","s":"GSI-SDW","x":2014.37,"v":14.36},{"c":"U","s":"GSI-SDW","x":2014.45,"v":13.8},{"c":"U","s":"GSI-SDW","x":2014.53,"v":13.95},
{"c":"U","s":"FDK-SDW","x":2006.74,"v":7.02},{"c":"U","s":"FDK-SDW","x":2006.80,"v":7.13},{"c":"U","s":"FDK-SDW","x":2006.88,"v":7.37},{"c":"U","s":"FDK-SDW","x":2006.96,"v":7.57},{"c":"U","s":"FDK-SDW","x":2007.04,"v":7.78},{"c":"U","s":"FDK-SDW","x":2007.12,"v":7.78},{"c":"U","s":"FDK-SDW","x":2007.20,"v":7.7},{"c":"U","s":"FDK-SDW","x":2007.28,"v":7.62},{"c":"U","s":"FDK-SDW","x":2007.36,"v":7.67},{"c":"U","s":"FDK-SDW","x":2007.44,"v":7.7},
{"c":"U","s":"FDK-SDW","x":2007.52,"v":7.7},{"c":"U","s":"FDK-SDW","x":2007.60,"v":7.7},{"c":"U","s":"FDK-SDW","x":2007.68,"v":7.78},{"c":"U","s":"FDK-SDW","x":2007.76,"v":7.83},{"c":"U","s":"FDK-SDW","x":2007.84,"v":7.94},{"c":"U","s":"FDK-SDW","x":2007.92,"v":7.89},{"c":"U","s":"FDK-SDW","x":2008.00,"v":7.94},{"c":"U","s":"FDK-SDW","x":2008.08,"v":7.94},{"c":"U","s":"FDK-SDW","x":2008.16,"v":7.97},{"c":"U","s":"FDK-SDW","x":2008.24,"v":8.02},
{"c":"U","s":"FDK-SDW","x":2008.32,"v":8.02},{"c":"U","s":"FDK-SDW","x":2008.40,"v":7.94},{"c":"U","s":"FDK-SDW","x":2008.48,"v":7.86},{"c":"U","s":"FDK-SDW","x":2008.54,"v":7.7},{"c":"U","s":"FDK-SDW","x":2008.62,"v":7.83},{"c":"U","s":"FDK-SDW","x":2008.70,"v":7.99},{"c":"U","s":"FDK-SDW","x":2008.79,"v":8.48},{"c":"U","s":"FDK-SDW","x":2008.88,"v":8.62},{"c":"U","s":"FDK-SDW","x":2008.96,"v":8.92},{"c":"U","s":"FDK-SDW","x":2009.04,"v":9.03},
{"c":"U","s":"FDK-SDW","x":2009.12,"v":9.16},{"c":"U","s":"FDK-SDW","x":2009.20,"v":9.24},{"c":"U","s":"FDK-SDW","x":2009.28,"v":9.16},{"c":"U","s":"FDK-SDW","x":2009.36,"v":9.05},{"c":"U","s":"FDK-SDW","x":2009.44,"v":9.03},{"c":"U","s":"FDK-SDW","x":2009.52,"v":9.16},{"c":"U","s":"FDK-SDW","x":2009.61,"v":9.32},{"c":"U","s":"FDK-SDW","x":2009.69,"v":9.44},{"c":"U","s":"FDK-SDW","x":2009.77,"v":9.44},{"c":"U","s":"FDK-SDW","x":2009.85,"v":9.44},
{"c":"U","s":"FDK-SDW","x":2009.93,"v":9.44},{"c":"U","s":"FDK-SDW","x":2010.01,"v":9.44},{"c":"U","s":"FDK-SDW","x":2010.09,"v":9.44},{"c":"U","s":"FDK-SDW","x":2010.17,"v":9.49},{"c":"U","s":"FDK-SDW","x":2010.25,"v":9.49},{"c":"U","s":"FDK-SDW","x":2010.33,"v":9.4},{"c":"U","s":"FDK-SDW","x":2010.41,"v":9.27},{"c":"U","s":"FDK-SDW","x":2010.49,"v":9.16},{"c":"U","s":"FDK-SDW","x":2010.55,"v":8.95},{"c":"U","s":"FDK-SDW","x":2010.62,"v":9.08},
{"c":"U","s":"FDK-SDW","x":2010.70,"v":9.4},{"c":"U","s":"FDK-SDW","x":2010.78,"v":9.61},{"c":"U","s":"FDK-SDW","x":2010.87,"v":9.68},{"c":"U","s":"FDK-SDW","x":2010.95,"v":9.73},{"c":"U","s":"FDK-SDW","x":2011.03,"v":9.78},{"c":"U","s":"FDK-SDW","x":2011.11,"v":9.84},{"c":"U","s":"FDK-SDW","x":2011.19,"v":9.97},{"c":"U","s":"FDK-SDW","x":2011.27,"v":9.89},{"c":"U","s":"FDK-SDW","x":2011.35,"v":9.78},{"c":"U","s":"FDK-SDW","x":2011.43,"v":9.73},
{"c":"U","s":"FDK-SDW","x":2011.51,"v":9.78},{"c":"U","s":"FDK-SDW","x":2011.62,"v":10.13},{"c":"U","s":"FDK-SDW","x":2011.71,"v":10.49},{"c":"U","s":"FDK-SDW","x":2011.79,"v":10.54},{"c":"U","s":"FDK-SDW","x":2011.87,"v":10.49},{"c":"U","s":"FDK-SDW","x":2011.95,"v":10.49},{"c":"U","s":"FDK-SDW","x":2012.03,"v":10.59},{"c":"U","s":"FDK-SDW","x":2012.11,"v":10.65},{"c":"U","s":"FDK-SDW","x":2012.19,"v":10.7},{"c":"U","s":"FDK-SDW","x":2012.27,"v":10.78},
{"c":"U","s":"FDK-SDW","x":2012.35,"v":10.86},{"c":"U","s":"FDK-SDW","x":2012.43,"v":10.95},{"c":"U","s":"FDK-SDW","x":2012.51,"v":10.78},{"c":"U","s":"FDK-SDW","x":2012.59,"v":10.83},{"c":"U","s":"FDK-SDW","x":2012.67,"v":10.86},{"c":"U","s":"FDK-SDW","x":2012.75,"v":11.11},{"c":"U","s":"FDK-SDW","x":2012.83,"v":11.14},{"c":"U","s":"FDK-SDW","x":2012.91,"v":11.19},{"c":"U","s":"FDK-SDW","x":2012.99,"v":11.35},{"c":"U","s":"FDK-SDW","x":2013.07,"v":11.46},
{"c":"U","s":"FDK-SDW","x":2013.15,"v":11.6},{"c":"U","s":"FDK-SDW","x":2013.23,"v":11.6},{"c":"U","s":"FDK-SDW","x":2013.31,"v":11.6},{"c":"U","s":"FDK-SDW","x":2013.42,"v":11.56},{"c":"U","s":"FDK-SDW","x":2013.50,"v":11.56},{"c":"U","s":"FDK-SDW","x":2013.58,"v":11.68},{"c":"U","s":"FDK-SDW","x":2013.66,"v":11.84},{"c":"U","s":"FDK-SDW","x":2013.74,"v":12.0},{"c":"U","s":"FDK-SDW","x":2013.82,"v":12.08},{"c":"U","s":"FDK-SDW","x":2013.90,"v":12.12},
{"c":"U","s":"FDK-SDW","x":2013.98,"v":12.12},{"c":"U","s":"FDK-SDW","x":2014.06,"v":12.16},{"c":"U","s":"FDK-SDW","x":2014.14,"v":12.21},{"c":"U","s":"FDK-SDW","x":2014.22,"v":12.16},{"c":"U","s":"FDK-SDW","x":2014.30,"v":11.95},{"c":"U","s":"FDK-SDW","x":2014.38,"v":11.84},{"c":"U","s":"FDK-SDW","x":2014.46,"v":11.84},{"c":"U","s":"FDK-SDW","x":2014.54,"v":11.79},
{"c":"U","s":"GSI-FDK","x":2006.74,"v":6.04},{"c":"U","s":"GSI-FDK","x":2006.81,"v":6.07},{"c":"U","s":"GSI-FDK","x":2006.88,"v":6.15},{"c":"U","s":"GSI-FDK","x":2006.96,"v":5.83},{"c":"U","s":"GSI-FDK","x":2007.04,"v":5.83},{"c":"U","s":"GSI-FDK","x":2007.12,"v":5.88},{"c":"U","s":"GSI-FDK","x":2007.20,"v":6.04},{"c":"U","s":"GSI-FDK","x":2007.29,"v":6.43},{"c":"U","s":"GSI-FDK","x":2007.37,"v":6.85},{"c":"U","s":"GSI-FDK","x":2007.46,"v":5.72},
{"c":"U","s":"GSI-FDK","x":2007.54,"v":5.83},{"c":"U","s":"GSI-FDK","x":2007.63,"v":6.11},{"c":"U","s":"GSI-FDK","x":2007.71,"v":5.99},{"c":"U","s":"GSI-FDK","x":2007.79,"v":5.94},{"c":"U","s":"GSI-FDK","x":2007.88,"v":5.88},{"c":"U","s":"GSI-FDK","x":2007.96,"v":6.11},{"c":"U","s":"GSI-FDK","x":2008.04,"v":5.91},{"c":"U","s":"GSI-FDK","x":2008.12,"v":5.99},{"c":"U","s":"GSI-FDK","x":2008.20,"v":6.24},{"c":"U","s":"GSI-FDK","x":2008.28,"v":6.27},
{"c":"U","s":"GSI-FDK","x":2008.36,"v":6.4},{"c":"U","s":"GSI-FDK","x":2008.45,"v":6.15},{"c":"U","s":"GSI-FDK","x":2008.53,"v":6.72},{"c":"U","s":"GSI-FDK","x":2008.61,"v":6.69},{"c":"U","s":"GSI-FDK","x":2008.70,"v":6.48},{"c":"U","s":"GSI-FDK","x":2008.79,"v":6.59},{"c":"U","s":"GSI-FDK","x":2008.88,"v":6.88},{"c":"U","s":"GSI-FDK","x":2008.96,"v":6.69},{"c":"U","s":"GSI-FDK","x":2009.04,"v":6.43},{"c":"U","s":"GSI-FDK","x":2009.12,"v":6.4},
{"c":"U","s":"GSI-FDK","x":2009.20,"v":6.4},{"c":"U","s":"GSI-FDK","x":2009.29,"v":6.69},{"c":"U","s":"GSI-FDK","x":2009.37,"v":6.97},{"c":"U","s":"GSI-FDK","x":2009.45,"v":6.59},{"c":"U","s":"GSI-FDK","x":2009.54,"v":6.97},{"c":"U","s":"GSI-FDK","x":2009.62,"v":6.53},{"c":"U","s":"GSI-FDK","x":2009.70,"v":6.59},{"c":"U","s":"GSI-FDK","x":2009.78,"v":6.59},{"c":"U","s":"GSI-FDK","x":2009.86,"v":6.27},{"c":"U","s":"GSI-FDK","x":2009.96,"v":6.53},
{"c":"U","s":"GSI-FDK","x":2010.04,"v":6.04},{"c":"U","s":"GSI-FDK","x":2010.12,"v":6.15},{"c":"U","s":"GSI-FDK","x":2010.20,"v":5.94},{"c":"U","s":"GSI-FDK","x":2010.29,"v":6.27},{"c":"U","s":"GSI-FDK","x":2010.37,"v":6.37},{"c":"U","s":"GSI-FDK","x":2010.46,"v":6.07},{"c":"U","s":"GSI-FDK","x":2010.54,"v":6.92},{"c":"U","s":"GSI-FDK","x":2010.62,"v":6.32},{"c":"U","s":"GSI-FDK","x":2010.71,"v":6.07},{"c":"U","s":"GSI-FDK","x":2010.79,"v":6.37},
{"c":"U","s":"GSI-FDK","x":2010.87,"v":6.72},{"c":"U","s":"GSI-FDK","x":2010.96,"v":6.53},{"c":"U","s":"GSI-FDK","x":2011.04,"v":5.99},{"c":"U","s":"GSI-FDK","x":2011.12,"v":6.07},{"c":"U","s":"GSI-FDK","x":2011.20,"v":6.04},{"c":"U","s":"GSI-FDK","x":2011.29,"v":6.27},{"c":"U","s":"GSI-FDK","x":2011.37,"v":6.53},{"c":"U","s":"GSI-FDK","x":2011.45,"v":6.48},{"c":"U","s":"GSI-FDK","x":2011.54,"v":6.72},{"c":"U","s":"GSI-FDK","x":2011.62,"v":6.15},
{"c":"U","s":"GSI-FDK","x":2011.71,"v":6.24},{"c":"U","s":"GSI-FDK","x":2011.79,"v":5.99},{"c":"U","s":"GSI-FDK","x":2011.87,"v":5.83},{"c":"U","s":"GSI-FDK","x":2011.95,"v":6.07},{"c":"U","s":"GSI-FDK","x":2012.04,"v":6.07},{"c":"U","s":"GSI-FDK","x":2012.12,"v":6.07},{"c":"U","s":"GSI-FDK","x":2012.20,"v":6.04},{"c":"U","s":"GSI-FDK","x":2012.28,"v":6.37},{"c":"U","s":"GSI-FDK","x":2012.36,"v":6.4},{"c":"U","s":"GSI-FDK","x":2012.45,"v":5.99},
{"c":"U","s":"GSI-FDK","x":2012.53,"v":6.37},{"c":"U","s":"GSI-FDK","x":2012.61,"v":6.37},{"c":"U","s":"GSI-FDK","x":2012.70,"v":6.11},{"c":"U","s":"GSI-FDK","x":2012.78,"v":5.34},{"c":"U","s":"GSI-FDK","x":2012.86,"v":5.18},{"c":"U","s":"GSI-FDK","x":2012.95,"v":5.1},{"c":"U","s":"GSI-FDK","x":2013.02,"v":4.81},{"c":"U","s":"GSI-FDK","x":2013.11,"v":4.81},{"c":"U","s":"GSI-FDK","x":2013.19,"v":5.18},{"c":"U","s":"GSI-FDK","x":2013.27,"v":5.39},
{"c":"U","s":"GSI-FDK","x":2013.36,"v":5.31},{"c":"U","s":"GSI-FDK","x":2013.46,"v":5.34},{"c":"U","s":"GSI-FDK","x":2013.54,"v":5.94},{"c":"U","s":"GSI-FDK","x":2013.62,"v":6.24},{"c":"U","s":"GSI-FDK","x":2013.70,"v":5.54},{"c":"U","s":"GSI-FDK","x":2013.78,"v":4.97},{"c":"U","s":"GSI-FDK","x":2013.86,"v":5.42},{"c":"U","s":"GSI-FDK","x":2013.94,"v":5.13},{"c":"U","s":"GSI-FDK","x":2014.02,"v":5.02},{"c":"U","s":"GSI-FDK","x":2014.12,"v":4.64},
{"c":"U","s":"GSI-FDK","x":2014.20,"v":4.64},{"c":"U","s":"GSI-FDK","x":2014.28,"v":4.64},{"c":"U","s":"GSI-FDK","x":2014.36,"v":6.15},{"c":"U","s":"GSI-FDK","x":2014.44,"v":5.67},{"c":"U","s":"GSI-FDK","x":2014.54,"v":5.99}
]
},
"layer":[
{"data":{"name":"quakes"},
 "mark":{"type":"area","interpolate":"step-after","color":"#808080"},
 "encoding":{
  "x":{"field":"x","type":"quantitative","scale":{"domain":[2004,2016],"nice":false,"zero":false},
   "axis":{"title":null,"values":[2004,2004.25,2004.5,2004.75,2005,2005.25,2005.5,2005.75,2006,2006.25,2006.5,2006.75,2007,2007.25,2007.5,2007.75,2008,2008.25,2008.5,2008.75,2009,2009.25,2009.5,2009.75,2010,2010.25,2010.5,2010.75,2011,2011.25,2011.5,2011.75,2012,2012.25,2012.5,2012.75,2013,2013.25,2013.5,2013.75,2014,2014.25,2014.5,2014.75,2015,2015.25,2015.5,2015.75,2016],
    "labelExpr":"datum.value % 1 === 0 ? datum.value + '/1/1' : ''","labelAngle":270,"labelPadding":4,
    "tickSize":{"condition":{"test":"datum.value % 1 === 0","value":8},"value":5},
    "grid":true,"gridColor":"#777","gridDash":[4,4],"gridWidth":1,
    "gridOpacity":{"condition":{"test":"datum.value % 1 === 0","value":1},"value":0}}},
  "y":{"field":"n","type":"quantitative","scale":{"domain":[0,400],"nice":false,"zero":true},
   "axis":{"orient":"right","title":"Number of earthquakes per day","titleAngle":270,"titlePadding":20,
    "tickCount":40,
    "labelExpr":"datum.value % 50 === 0 ? datum.label : ''","tickSize":6,"labelPadding":16,"grid":false}}
 }},
{"layer":[
 {"data":{"name":"trend"},
  "mark":{"type":"line","color":"#555","strokeWidth":1.3,"strokeDash":[9,5]},
  "encoding":{
   "x":{"field":"x","type":"quantitative","scale":{"domain":[2004,2016],"nice":false,"zero":false}},
   "y":{"field":"v","type":"quantitative","scale":{"domain":[0,40],"nice":false,"zero":false},
    "axis":{"orient":"left","title":"Relative displacements (cm)","titlePadding":22,"titleFontSize":27,
     "tickCount":40,
     "labelExpr":"datum.value % 5 === 0 ? datum.label : ''","tickSize":6,"labelPadding":18,
     "grid":true,"gridColor":"#222","gridWidth":1,
     "gridOpacity":{"condition":{"test":"datum.value % 5 === 0 && datum.value > 0 && datum.value < 40","value":1},"value":0}}},
   "detail":[{"field":"c"},{"field":"s"}]}},
 {"data":{"name":"disp"},
  "mark":{"type":"line","color":"#444","strokeWidth":1},
  "encoding":{
   "x":{"field":"x","type":"quantitative"},
   "y":{"field":"v","type":"quantitative"},
   "detail":[{"field":"c"},{"field":"s"}]}},
 {"data":{"name":"disp"},
  "mark":{"type":"point","filled":false,"color":"#222","fill":"white","fillOpacity":1,"strokeWidth":1,"size":40,"opacity":1},
  "encoding":{
   "x":{"field":"x","type":"quantitative"},
   "y":{"field":"v","type":"quantitative"},
   "shape":{"field":"s","type":"nominal",
    "scale":{"domain":["GSI-SDW","GSI-FDK","FDK-SDW"],"range":["circle","triangle-up","M-1.4,0L1.4,0M0,-1.4L0,1.4"]},
    "legend":{"orient":"none","legendX":58,"legendY":23,"title":null,"padding":18,"strokeColor":"black","fillColor":"white",
     "labelFont":"Liberation Serif","labelFontSize":20,"labelColor":"black","labelOffset":14,"rowPadding":3,"symbolSize":40,
     "encode":{
      "symbols":{"update":{"stroke":{"value":"black"},"fill":{"value":"white"},"strokeWidth":{"value":1.5},"opacity":{"value":1}}},
      "labels":{"update":{"text":{"signal":"datum.label + '\u2003\u2003'"}}}}}}}},
 {"data":{"values":[{"x":2005.17,"v":28.1},{"x":2006.74,"v":29.55},{"x":2008.8,"v":33.1},{"x":2011.46,"v":36.15},{"x":2014.57,"v":39.0}]},
  "mark":{"type":"point","shape":"M-0.21,-1L0.21,-1L0.21,0.3L0.45,0.3L0,1L-0.45,0.3L-0.21,0.3Z","size":1600,"filled":true,"color":"black","opacity":1},
  "encoding":{"x":{"field":"x","type":"quantitative"},"y":{"field":"v","type":"quantitative"}}},
 {"data":{"values":[{"x":2005.19,"v":30.45,"t":"I"},{"x":2006.76,"v":31.9,"t":"II"},{"x":2008.8,"v":35.63,"t":"III"},{"x":2011.43,"v":38.55,"t":"IV"}]},
  "mark":{"type":"text","font":"Liberation Serif","fontSize":24,"fontWeight":"bold","color":"black","align":"center","baseline":"middle"},
  "encoding":{"x":{"field":"x","type":"quantitative"},"y":{"field":"v","type":"quantitative"},"text":{"field":"t"}}},
 {"data":{"values":[{"x":2014.58,"v":40.97,"t":"Eruption"}]},
  "mark":{"type":"text","font":"Liberation Serif","fontSize":20,"color":"black","align":"center","baseline":"middle"},
  "encoding":{"x":{"field":"x","type":"quantitative"},"y":{"field":"v","type":"quantitative"},"text":{"field":"t"}}},
 {"data":{"values":[{"x":2004.21,"v":26.99},{"x":2004.23,"v":17.73},{"x":2004.23,"v":10.57}]},
  "mark":{"type":"point","shape":"M0,1L0,-1M-0.25,-0.57L0,-1L0.25,-0.57","size":3600,"filled":false,"stroke":"black","strokeWidth":1.5,"opacity":1},
  "encoding":{"x":{"field":"x","type":"quantitative"},"y":{"field":"v","type":"quantitative"}}},
 {"data":{"values":[{"x":2004.55,"v":26.86,"t":"N"},{"x":2004.53,"v":17.2,"t":"W"},{"x":2004.56,"v":10.38,"t":"U"}]},
  "mark":{"type":"text","font":"Liberation Serif","fontSize":23,"fontWeight":"bold","color":"black","align":"center","baseline":"middle"},
  "encoding":{"x":{"field":"x","type":"quantitative"},"y":{"field":"v","type":"quantitative"},"text":{"field":"t"}}},
 {"data":{"values":[{"x":2015.27,"v":37.9,"t":"11.8 mm/y"},{"x":2015.3,"v":36.1,"t":"10.6 mm/y"}]},
  "mark":{"type":"text","font":"Liberation Serif","fontSize":19,"color":"#333","align":"center","baseline":"middle","angle":344},
  "encoding":{"x":{"field":"x","type":"quantitative"},"y":{"field":"v","type":"quantitative"},"text":{"field":"t"}}},
 {"data":{"values":[{"x":2015.24,"v":23.68,"t":"8.3 mm/y"}]},
  "mark":{"type":"text","font":"Liberation Serif","fontSize":19,"color":"#333","align":"center","baseline":"middle","angle":348},
  "encoding":{"x":{"field":"x","type":"quantitative"},"y":{"field":"v","type":"quantitative"},"text":{"field":"t"}}},
 {"data":{"values":[{"x":2015.24,"v":20.95,"t":"5.3 mm/y"},{"x":2015.3,"v":12.62,"t":"6.5 mm/y"}]},
  "mark":{"type":"text","font":"Liberation Serif","fontSize":19,"color":"#333","align":"center","baseline":"middle","angle":351},
  "encoding":{"x":{"field":"x","type":"quantitative"},"y":{"field":"v","type":"quantitative"},"text":{"field":"t"}}},
 {"data":{"values":[{"x":2015.27,"v":14.67,"t":"5.8 mm/y"}]},
  "mark":{"type":"text","font":"Liberation Serif","fontSize":19,"color":"#333","align":"center","baseline":"middle","angle":354},
  "encoding":{"x":{"field":"x","type":"quantitative"},"y":{"field":"v","type":"quantitative"},"text":{"field":"t"}}},
 {"data":{"values":[{"x":2015.18,"v":25.67,"t":"0.5 mm/y"},{"x":2015.24,"v":17.44,"t":"3.0 mm/y"},{"x":2015.24,"v":5.46,"t":"-1.2 mm/y"}]},
  "mark":{"type":"text","font":"Liberation Serif","fontSize":19,"color":"#333","align":"center","baseline":"middle"},
  "encoding":{"x":{"field":"x","type":"quantitative"},"y":{"field":"v","type":"quantitative"},"text":{"field":"t"}}}
 ]}
],
"resolve":{"scale":{"y":"independent"},"axis":{"y":"independent"}}
}
